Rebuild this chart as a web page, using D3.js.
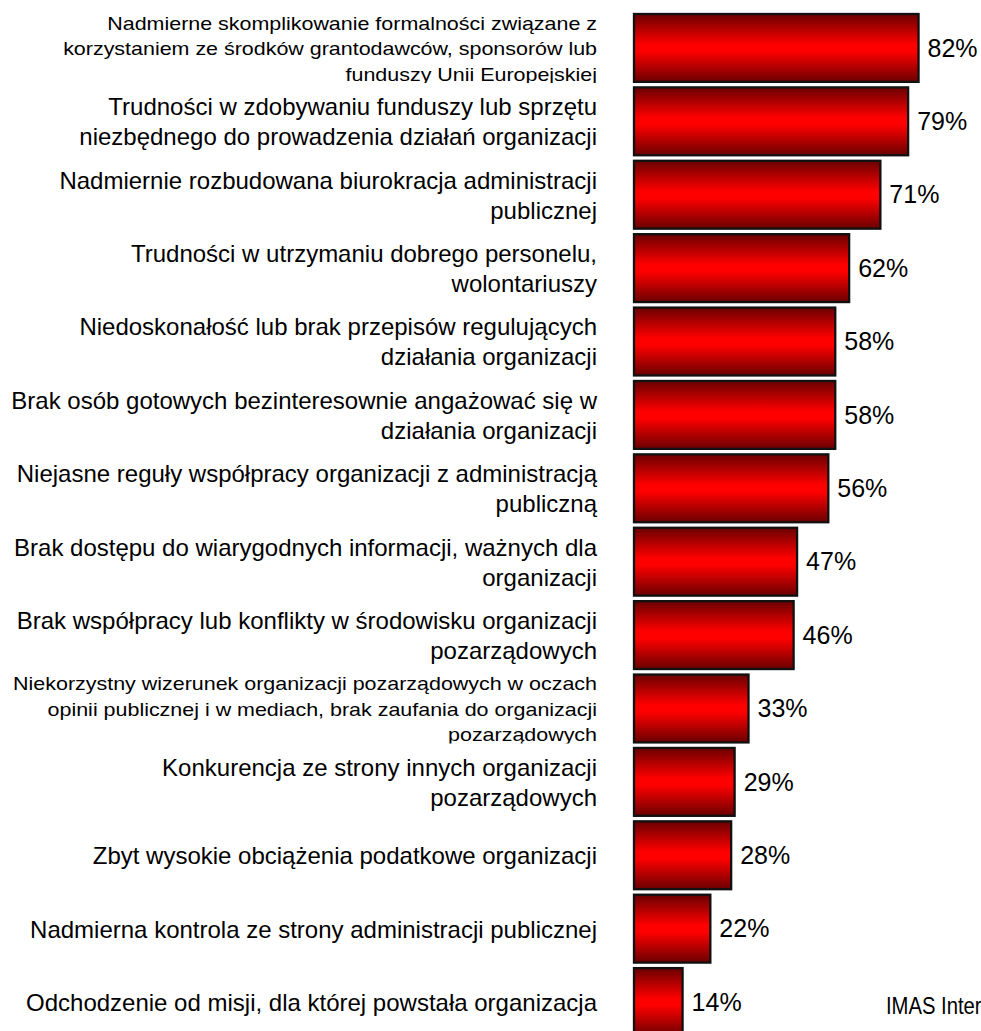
<!DOCTYPE html>
<meta charset="utf-8">
<head>
<style>
  body { margin: 0; background: #fff; }
  svg { display: block; }
  .lbl { font-family: "Liberation Sans", Arial, sans-serif; fill: #000; }
  .val { font-family: "Liberation Sans", Arial, sans-serif; font-size: 25px; fill: #000; }
</style>
</head>
<body>
<div id="chart"></div>
<script src="https://d3js.org/d3.v7.min.js"></script>
<script>

// categories (line breaks as in the original chart)
var categories = [
  ["Nadmierne skomplikowanie formalności związane z", "korzystaniem ze środków grantodawców, sponsorów lub", "funduszy Unii Europejskiej"],
  ["Trudności w zdobywaniu funduszy lub sprzętu", "niezbędnego do prowadzenia działań organizacji"],
  ["Nadmiernie rozbudowana biurokracja administracji", "publicznej"],
  ["Trudności w utrzymaniu dobrego personelu,", "wolontariuszy"],
  ["Niedoskonałość lub brak przepisów regulujących", "działania organizacji"],
  ["Brak osób gotowych bezinteresownie angażować się w", "działania organizacji"],
  ["Niejasne reguły współpracy organizacji z administracją", "publiczną"],
  ["Brak dostępu do wiarygodnych informacji, ważnych dla", "organizacji"],
  ["Brak współpracy lub konflikty w środowisku organizacji", "pozarządowych"],
  ["Niekorzystny wizerunek organizacji pozarządowych w oczach", "opinii publicznej i w mediach, brak zaufania do organizacji", "pozarządowych"],
  ["Konkurencja ze strony innych organizacji", "pozarządowych"],
  ["Zbyt wysokie obciążenia podatkowe organizacji"],
  ["Nadmierna kontrola ze strony administracji publicznej"],
  ["Odchodzenie od misji, dla której powstała organizacja"]
];

// percentages
var values = [82, 79, 71, 62, 58, 58, 56, 47, 46, 33, 29, 28, 22, 14];

var source = "IMAS International";

var W = 981, H = 1031;

var svg = d3.select("#chart").append("svg")
    .attr("width", W)
    .attr("height", H);

var defs = svg.append("defs");
var grad = defs.append("linearGradient")
    .attr("id", "redgrad")
    .attr("x1", 0).attr("y1", 0).attr("x2", 0).attr("y2", 1);
grad.append("stop").attr("offset", "0%").attr("stop-color", "#6a0000");
grad.append("stop").attr("offset", "45%").attr("stop-color", "#ff0000");
grad.append("stop").attr("offset", "55%").attr("stop-color", "#ff0000");
grad.append("stop").attr("offset", "100%").attr("stop-color", "#6a0000");

var idx = d3.range(values.length);

var y = d3.scaleBand()
    .domain(idx)
    .range([14, 1036])
    .paddingInner(0.075)
    .paddingOuter(0);

var x = d3.scaleLinear()
    .domain([0, 100])
    .range([634, 981]);

// bars
svg.selectAll("rect.bar")
  .data(idx)
  .enter().append("rect")
    .attr("class", "bar")
    .attr("x", x(0))
    .attr("y", function(i) { return y(i); })
    .attr("width", function(i) { return x(values[i]) - x(0); })
    .attr("height", y.bandwidth())
    .attr("fill", "url(#redgrad)")
    .attr("stroke", "#111")
    .attr("stroke-width", 2.3);

// value labels
svg.selectAll("text.val")
  .data(idx)
  .enter().append("text")
    .attr("class", "val")
    .attr("x", function(i) { return x(values[i]) + 9; })
    .attr("y", function(i) { return y(i) + y.bandwidth() / 2; })
    .attr("dy", "0.35em")
    .text(function(i) { return values[i] + "%"; });

// category labels, long ones use a smaller (wider set) font and are clipped to the row
idx.forEach(function(i) {
  var lines = categories[i];
  var small = lines.length > 2;
  var fs = small ? 18.5 : 24;
  var sx = small ? 1.16 : 1;
  var lh = small ? 25.5 : 30;
  var cy = y(i) + y.bandwidth() / 2 + (small ? 0 : 0.5);
  var first = cy - (lines.length - 1) * lh / 2 + fs * 0.35 + (small ? 1 : 0);

  var g = svg.append("g");
  if (small) {
    defs.append("clipPath").attr("id", "clip" + i)
      .append("rect")
        .attr("x", 0).attr("y", y(i) - 6)
        .attr("width", 620).attr("height", y.bandwidth() + 7);
    g.attr("clip-path", "url(#clip" + i + ")");
  }
  var t = g.append("text")
      .attr("class", "lbl")
      .attr("text-anchor", "end")
      .attr("transform", "translate(597,0) scale(" + sx + ",1)")
      .style("font-size", fs + "px");
  lines.forEach(function(l, k) {
    t.append("tspan")
      .attr("x", 0)
      .attr("y", first + k * lh)
      .text(l);
  });
});

svg.append("text")
    .attr("class", "lbl")
    .attr("transform", "translate(886,1014) scale(0.88,1)")
    .style("font-size", "23px")
    .text(source);

</script>
</body>
